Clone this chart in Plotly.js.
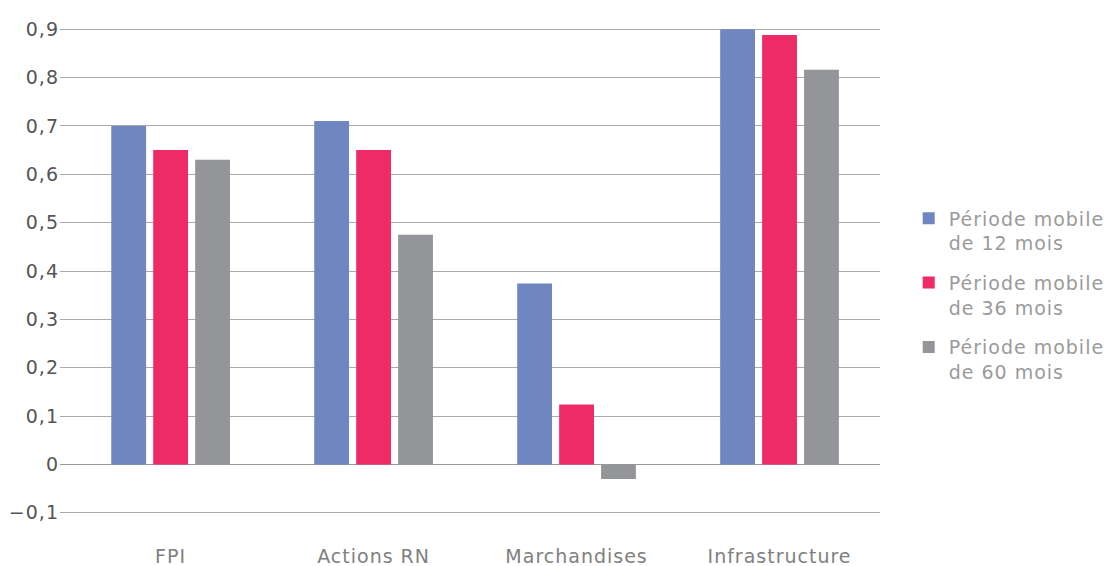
<!DOCTYPE html>
<html>
<head>
<meta charset="utf-8">
<script src="https://cdn.plot.ly/plotly-3.0.1.min.js"></script>
<style>
html,body{margin:0;padding:0;background:#fff;}
#chart{width:1108px;height:566px;}
text{letter-spacing:1px;}
</style>
</head>
<body>
<div id="chart"></div>
<script>
const categories = ["FPI", "Actions RN", "Marchandises", "Infrastructure"];
const seriesNames = ["Période mobile<br>de 12 mois", "Période mobile<br>de 36 mois", "Période mobile<br>de 60 mois"];
const values12 = [0.70, 0.71, 0.374, 0.90];
const values36 = [0.65, 0.65, 0.124, 0.888];
const values60 = [0.63, 0.475, -0.03, 0.816];
const colors = ["#6f86c1", "#ee2a67", "#949599"];

const allValues = [values12, values36, values60];
const traces = allValues.map((v, i) => ({
  type: "bar",
  x: categories,
  y: v,
  name: seriesNames[i],
  legendgroup: "g" + i,
  marker: {color: colors[i]},
  hoverinfo: "x+y"
}));

const layout = {
  width: 1108,
  height: 566,
  margin: {l: 60, r: 228, t: 28, b: 52, autoexpand: false},
  paper_bgcolor: "#ffffff",
  plot_bgcolor: "#ffffff",
  separators: ", ",
  font: {family: "'DejaVu Sans', sans-serif", size: 19, color: "#555"},
  barmode: "group",
  bargap: 0.38,
  bargroupgap: 0.17,
  showlegend: true,
  legend: {
    x: 1.035, y: 0.45, xanchor: "left", yanchor: "middle",
    traceorder: "grouped",
    tracegroupgap: 12,
    valign: "top",
    font: {size: 19, color: "#9a9a9a"},
    bgcolor: "rgba(0,0,0,0)"
  },
  xaxis: {
    range: [-0.545, 3.495],
    showgrid: false,
    showline: false,
    zeroline: false,
    ticks: "outside",
    ticklen: 25,
    tickcolor: "rgba(0,0,0,0)",
    tickfont: {size: 19, color: "#808080"}
  },
  yaxis: {
    range: [-0.1025, 0.9025],
    dtick: 0.1,
    tick0: 0,
    tickformat: ".1~f",
    showgrid: true,
    gridcolor: "#aaaaaa",
    gridwidth: 1,
    zeroline: true,
    zerolinecolor: "#9a9a9a",
    zerolinewidth: 1,
    showline: false,
    ticks: "",
    tickfont: {size: 19, color: "#555"}
  }
};

Plotly.newPlot("chart", traces, layout, {displayModeBar: false, staticPlot: true});
</script>
</body>
</html>
